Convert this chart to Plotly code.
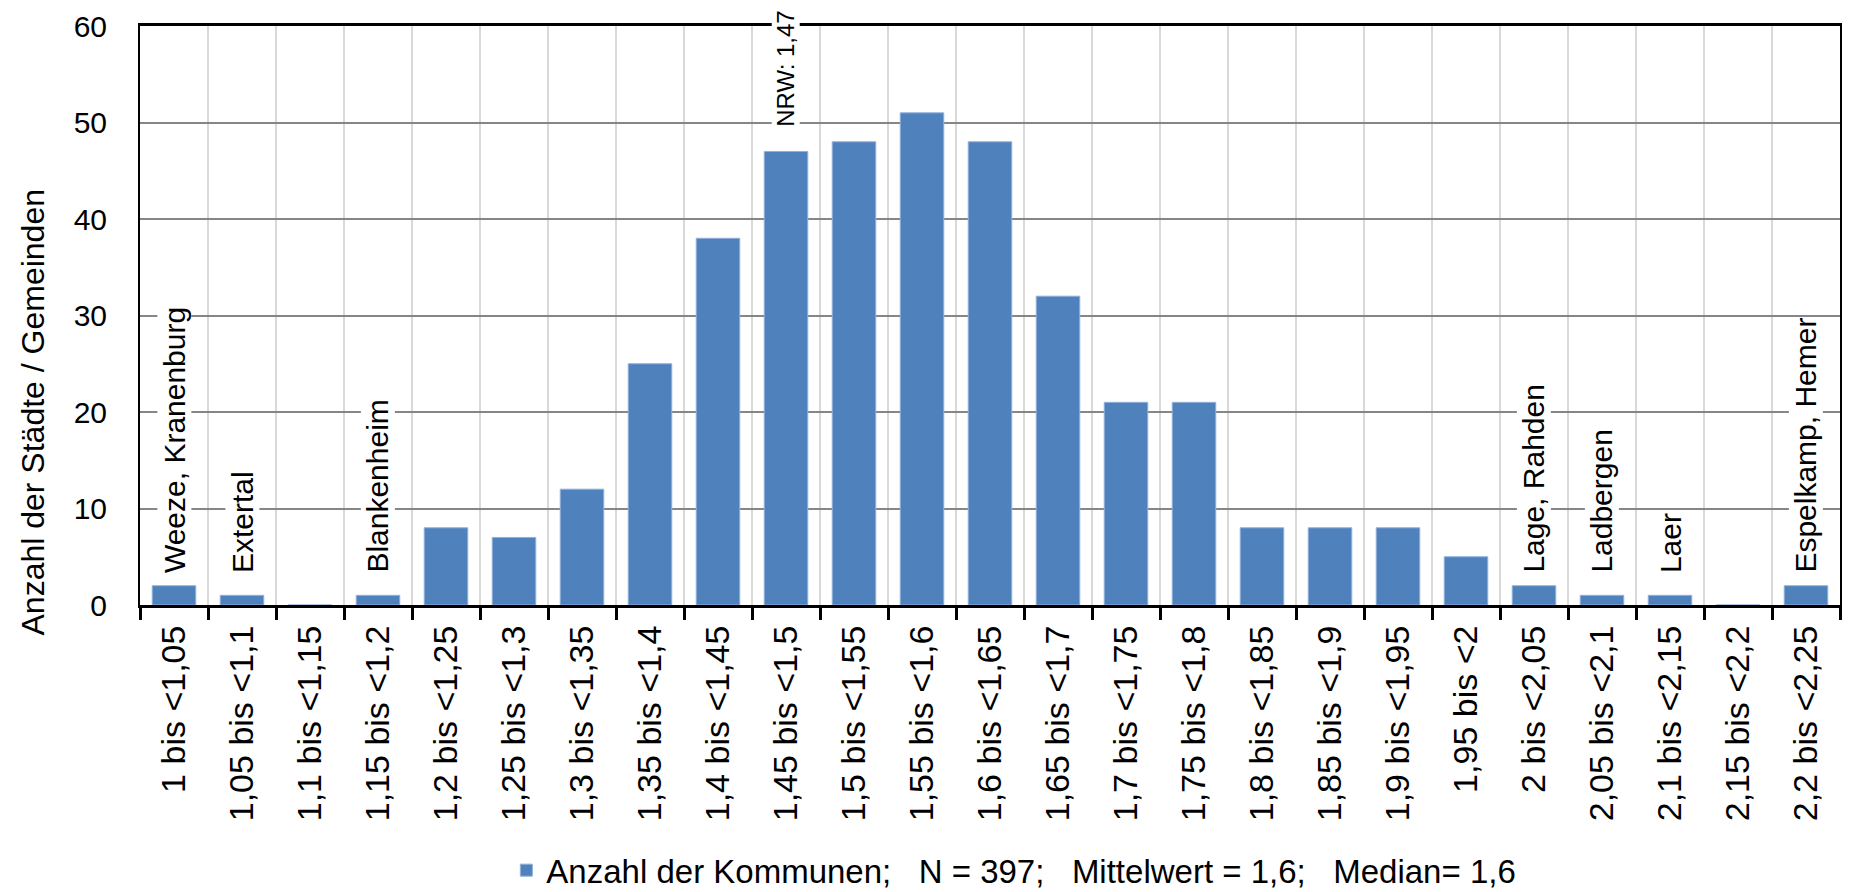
"""Histogram: Anzahl der Kommunen je Klasse."""

import plotly.graph_objects as go

categories = [
    "1 bis <1,05", "1,05 bis <1,1", "1,1 bis <1,15", "1,15 bis <1,2",
    "1,2 bis <1,25", "1,25 bis <1,3", "1,3 bis <1,35", "1,35 bis <1,4",
    "1,4 bis <1,45", "1,45 bis <1,5", "1,5 bis <1,55", "1,55 bis <1,6",
    "1,6 bis <1,65", "1,65 bis <1,7", "1,7 bis <1,75", "1,75 bis <1,8",
    "1,8 bis <1,85", "1,85 bis <1,9", "1,9 bis <1,95", "1,95 bis <2",
    "2 bis <2,05", "2,05 bis <2,1", "2,1 bis <2,15", "2,15 bis <2,2",
    "2,2 bis <2,25",
]
counts = [2, 1, 0, 1, 8, 7, 12, 25, 38, 47, 48, 51, 48, 32, 21, 21,
          8, 8, 8, 5, 2, 1, 1, 0, 2]

# labels written above some classes (category, text, y level)
label_cats = [categories[0], categories[1], categories[3], categories[9],
              categories[20], categories[21], categories[22], categories[24]]
label_texts = ["Weeze, Kranenburg", "Extertal", "Blankenheim", "NRW: 1,47",
               "Lage, Rahden", "Ladbergen", "Laer", "Espelkamp, Hemer"]
label_levels = [3.2, 3.2, 3.2, 49.4, 3.2, 3.2, 3.2, 3.2]

y_ticks = [0, 10, 20, 30, 40, 50, 60]

y_title = "Anzahl der Städte / Gemeinden"
legend_name = ("Anzahl der Kommunen;\u00a0\u00a0 N = 397;\u00a0\u00a0 "
               "Mittelwert = 1,6;\u00a0\u00a0 Median= 1,6")

FONT = "Liberation Sans, Arial, sans-serif"
BLUE = "#4F81BD"

fig = go.Figure()
fig.add_trace(
    go.Bar(
        x=categories,
        y=counts,
        name=legend_name,
        marker=dict(color=BLUE, line=dict(color="#8fb0da", width=1)),
        showlegend=True,
    )
)

for cat, txt, lvl in zip(label_cats, label_texts, label_levels):
    size = 24 if txt.startswith("NRW") else 30
    fig.add_annotation(
        x=cat, y=lvl, text=txt, textangle=-90,
        xanchor="center", yanchor="bottom", showarrow=False,
        bgcolor="white", borderpad=0,
        font=dict(family=FONT, size=size, color="#000"),
    )

# axis title sits lower than the plot centre, so place it by hand
fig.add_annotation(
    xref="paper", yref="paper", x=-0.063, y=0.334, text=y_title,
    textangle=-90, xanchor="center", yanchor="middle", showarrow=False,
    font=dict(family=FONT, size=32, color="#000"),
)

# page body adds a small offset, so the figure is a bit smaller than the window
fig.update_layout(
    width=1843,
    height=884,
    margin=dict(l=132, r=11, t=18, b=287, autoexpand=False),
    paper_bgcolor="white",
    plot_bgcolor="white",
    bargap=0.36,
    font=dict(family=FONT, size=30, color="#000"),
    showlegend=True,
    legend=dict(
        orientation="h", x=0.2155, xanchor="left", y=-0.458, yanchor="middle",
        font=dict(family=FONT, size=33, color="#000"),
        itemwidth=30,
    ),
)
fig.update_xaxes(
    type="category",
    tickangle=-90,
    tickson="boundaries",
    ticks="outside",
    ticklen=12,
    tickwidth=3,
    tickcolor="black",
    ticklabelstandoff=4,
    showgrid=True,
    gridcolor="#d9d9d9",
    gridwidth=1.5,
    showline=True,
    linecolor="black",
    linewidth=3,
    mirror=True,
    tickfont=dict(family=FONT, size=34, color="#000"),
)
fig.update_yaxes(
    range=[0, 60],
    tickvals=y_ticks,
    ticklabeloverflow="allow",
    showgrid=True,
    gridcolor="#868686",
    gridwidth=1.8,
    showline=True,
    linecolor="black",
    linewidth=2,
    mirror=True,
    ticks="",
    ticklabelstandoff=25,
    zeroline=False,
    tickfont=dict(family=FONT, size=30, color="#000"),
)

fig.write_html("out.html")
